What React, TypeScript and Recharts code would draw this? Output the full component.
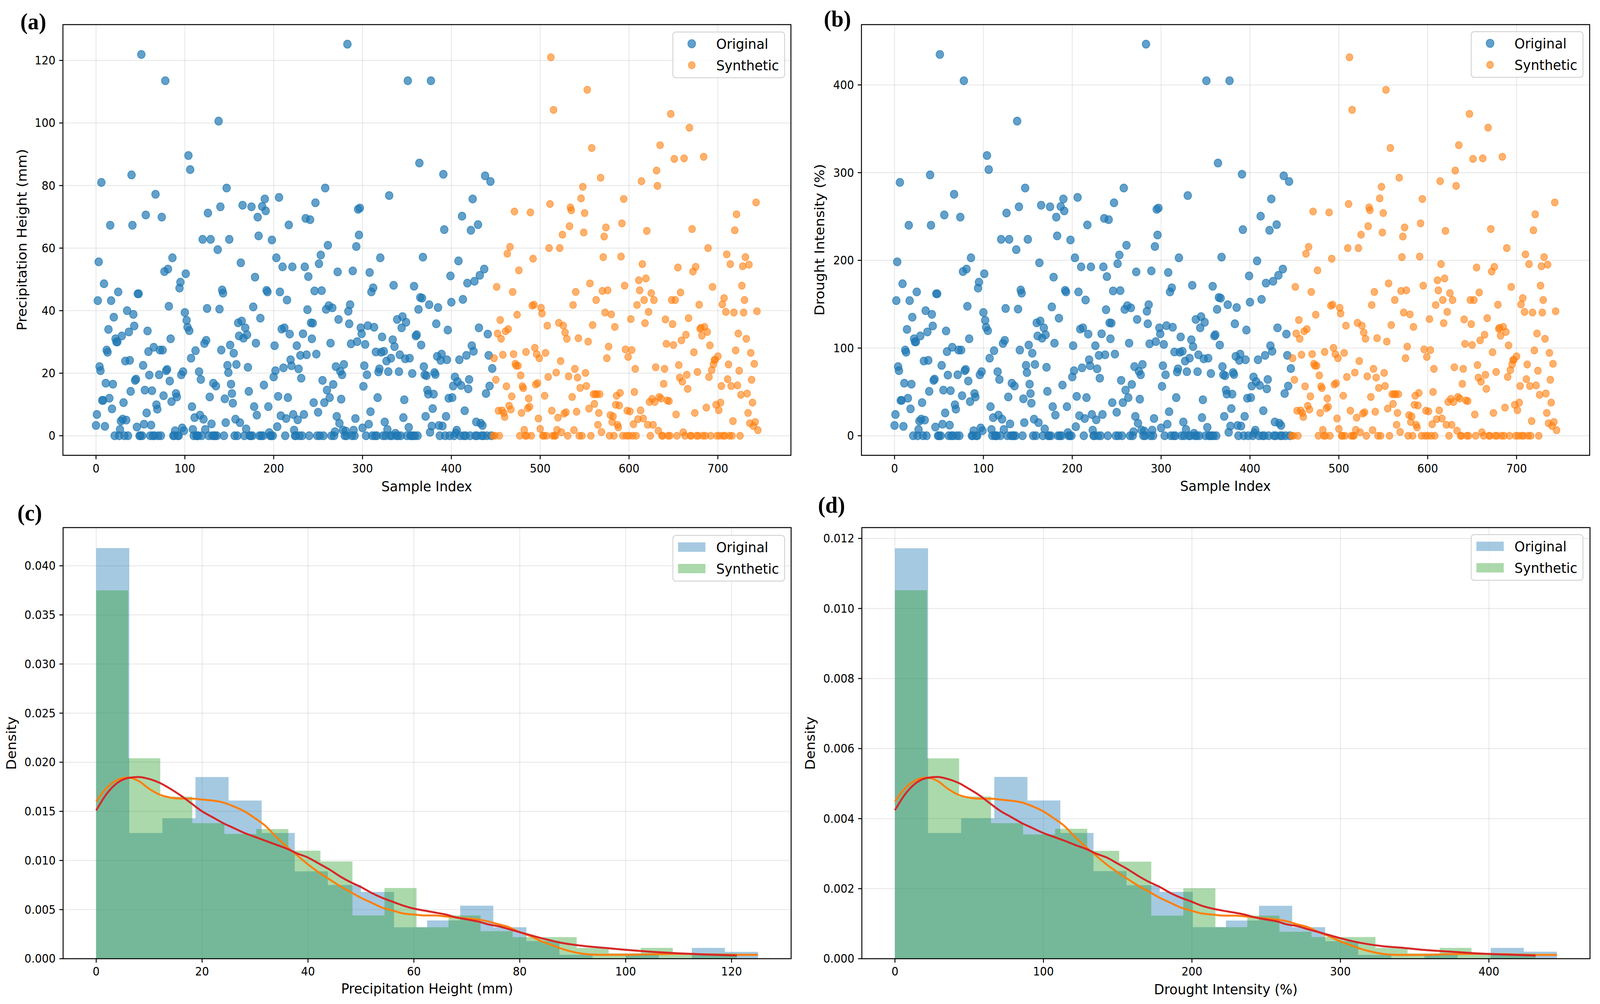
import React from 'react';
import {
  ScatterChart,
  Scatter,
  ComposedChart,
  Area,
  Line,
  XAxis,
  YAxis,
  CartesianGrid,
  ReferenceArea,
} from 'recharts';

// ---- data ----

// panel (a): precipitation height (mm) per sample index, original samples 0..446
const ORIGINAL_PRECIP = [
  3.3, 6.8, 43.2, 55.6, 22.1, 20.8, 81, 11.3, 11.3, 48.6,
  3, 16.8, 27.4, 26.7, 34, 12, 67.3, 43.2, 8.6, 16.5,
  37.9, 0, 31, 30, 30, 46, 0, 2, 4.7, 31.9,
  5.3, 10.6, 0, 23.9, 5, 40, 0, 33.2, 24.1, 14.2,
  83.4, 67.3, 38.8, 35.1, 17.7, 18.1, 2.8, 45.4, 45.4, 0,
  0, 121.9, 0, 22.5, 3.7, 14.6, 70.6, 7.3, 33.5, 26.9,
  19.4, 0, 3.4, 14.4, 0, 28.3, 0, 77.2, 9.9, 8.5,
  0, 19.5, 27.4, 0, 69.9, 27.4, 12.8, 52.5, 113.5, 20.8,
  21.2, 53.3, 41.4, 17.5, 31, 10.9, 56.9, 0, 0, 1.6,
  13.5, 12.4, 0, 0, 47.2, 49.1, 19.5, 2.5, 20.5, 1.6,
  39.4, 51.8, 36.9, 34.7, 89.6, 33.6, 85.1, 24.8, 9.3, 2,
  0, 5.8, 27.2, 0, 0, 0, 20.5, 6.6, 18, 0,
  62.8, 5.3, 29.5, 2, 30.5, 40.7, 71.2, 0, 12.4, 62.8,
  3.8, 0, 16.8, 0, 0, 15.9, 0, 59.5, 100.6, 40.5,
  73.2, 27.4, 46.6, 45.6, 0, 11.8, 4.2, 79.2, 22.5, 20.2,
  62.8, 29, 16.5, 13.5, 10.4, 26.4, 0, 5.3, 22.8, 0,
  36.1, 31.9, 4.2, 55.3, 36.7, 73.7, 31.2, 0, 34.5, 2.2,
  32.3, 21.9, 14.2, 0, 0, 73.2, 0, 41.2, 9.3, 50.7,
  29.6, 6.6, 69.9, 63.9, 0, 37.6, 0, 73.3, 0, 16.2,
  75.7, 71.9, 46.5, 46, 9.3, 1, 0, 0, 62.6, 0,
  18.8, 28.8, 20.8, 56.9, 2.9, 12.6, 76.2, 46, 6.4, 34.1,
  54, 21.7, 34.5, 0, 5.5, 43.4, 12.2, 67.4, 32.5, 24.3,
  22.4, 54, 6.8, 1.8, 0, 0, 28.8, 5.1, 21.4, 0,
  25.7, 18.4, 0, 32.6, 6.8, 54, 69.5, 25.9, 40.3, 50.9,
  0, 69.1, 36.1, 31, 36, 10.6, 46.3, 74.5, 26.1, 0,
  7.5, 55, 0, 57.8, 46.4, 17.7, 0, 10.6, 79.2, 40.4,
  14.6, 60.9, 41.6, 12.2, 29.6, 0, 40.9, 16.4, 0, 1.3,
  22.1, 6.2, 52.4, 37.2, 4, 20.6, 11.7, 19.5, 1.8, 22.8,
  0, 1.5, 0, 125.2, 39.8, 35.8, 41.9, 29.4, 0, 52.7,
  1.8, 0, 5.5, 60.5, 30.1, 72.4, 64.2, 72.8, 34.5, 32.6,
  2.5, 15.8, 22.4, 29.2, 0, 19.5, 35.2, 3.7, 52.2, 7.7,
  46, 0, 47.3, 34.7, 0, 26.8, 0, 12.2, 20.4, 21.4,
  56.9, 26.7, 31.6, 0, 27, 4.4, 0, 23.9, 2, 20.5,
  76.8, 0, 24.8, 0, 30.7, 48.1, 28.5, 0.8, 0, 37.2,
  0, 20.5, 25.9, 0, 34.5, 38.1, 5.8, 11.5, 24.6, 36.3,
  0, 113.5, 2.7, 24.8, 0, 0, 19.9, 0, 47.8, 0,
  31.9, 32.3, 0, 40.4, 87.2, 44.2, 29, 44, 57.1, 22.1,
  19.5, 6.2, 19.2, 14.6, 13.3, 41.9, 1.1, 113.5, 3.1, 8.7,
  13.3, 20.2, 19.6, 35.8, 25.4, 41, 3.3, 0, 24.1, 26.1,
  3.1, 83.6, 65.9, 0, 6.2, 24.3, 33.8, 12, 0, 51.1,
  42.7, 12.2, 15.9, 0, 18.8, 0.9, 1.8, 17.3, 55.9, 24.3,
  0, 16.1, 70.2, 43.6, 0, 8, 0, 25.7, 48.8, 15,
  18, 0, 65.7, 28.8, 75.7, 27, 49.4, 0, 4.4, 0,
  67.5, 34.5, 51.3, 4, 0, 3.3, 0, 53.3, 83.1, 13.5,
  0, 32.5, 25.7, 15.9, 81.3, 0, 21.5,
];

// synthetic samples follow right after, indices 447..745
const SYNTHETIC_PRECIP = [
  0, 24.8, 0, 17.9, 47.6, 32.7, 8, 0, 37, 31,
  8.1, 25.9, 7.3, 6, 33.4, 15.8, 58.2, 34.1, 9.6, 60.4,
  8.4, 12.6, 46, 26.1, 71.7, 23, 22.4, 38.7, 22.4, 52.9,
  0, 19.3, 7.3, 15.8, 15.2, 1.9, 0, 26.8, 0, 8.8,
  11.9, 9.3, 71.4, 0, 41.6, 56.6, 41.9, 28.1, 16.4, 26.1,
  16.8, 5.5, 24.8, 2.2, 40.9, 39.1, 0, 0, 12.8, 26.5,
  0, 35.2, 18.8, 60, 74.1, 121, 8, 0, 104.2, 0,
  0, 20.2, 1.9, 5.8, 36.1, 60, 23.9, 1.1, 64.3, 35.2,
  7.1, 33, 7.5, 31, 0, 19, 67, 73, 72.1, 12.4,
  41.8, 1.8, 21.4, 46, 7.7, 18.6, 31.2, 0, 15.3, 75.9,
  0, 79.6, 65, 71.2, 20.1, 15.9, 110.6, 30.1, 8.7, 48.7,
  0, 92, 35.4, 13.3, 10.2, 13.3, 43.4, 13.3, 3.5, 7.3,
  13.3, 82.5, 1.2, 46.3, 57.1, 63.7, 39.4, 66.6, 24.8, 46.5,
  28.5, 0, 6.6, 38.8, 4.4, 6.2, 0, 34.8, 9.9, 12.8,
  3.5, 2.7, 9.7, 13.7, 57.3, 67.9, 0, 75.7, 48, 27.6,
  0, 8, 25.2, 0, 7.8, 37.3, 27.4, 0, 3.7, 14,
  21.4, 0, 41.8, 5.3, 49.7, 46.5, 8.1, 81.4, 54.9, 5.5,
  43.4, 36, 50.3, 65.5, 3.5, 39.6, 10.8, 0, 45.6, 11.8,
  3.5, 43.4, 10.8, 21.9, 84.8, 79.9, 1.6, 12.4, 92.9, 11.9,
  0, 0, 16.6, 21.4, 37.2, 29.4, 11.3, 0, 11.1, 0,
  102.9, 43.4, 35.7, 29, 88.5, 43.4, 6.8, 0, 53.8, 22.6,
  18.6, 45.8, 30.5, 17.3, 1.1, 88.7, 0, 32.3, 19.5, 15,
  37.6, 98.5, 0, 0, 66.1, 52.5, 26.7, 7.3, 54, 0,
  20.4, 0, 41.9, 34.2, 34.5, 32, 0, 89.2, 34.8, 0,
  9, 33.2, 60, 18.8, 28.9, 0, 21, 47.6, 22.8, 24.2,
  24.3, 9.9, 0, 25.4, 8.2, 0, 10.6, 15.9, 42, 0,
  44, 0, 39.6, 58, 18.1, 22.8, 0, 54.9, 15.9, 0,
  4.7, 39.4, 65.7, 27.3, 70.8, 16.1, 32.7, 20.8, 0, 13.1,
  48, 54.2, 39.4, 43.4, 57.1, 31, 13.5, 7.3, 54.7, 4,
  26.5, 17.9, 10.6, 3.1, 23, 4.4, 74.6, 39.8, 1.8,
];

// panel (b) shows the very same samples as drought intensity (% of mean precipitation)
const DROUGHT_PER_MM = 3.566;

// panel (c): histogram bins (density) and KDE curves
const PRECIP_ORIG_EDGES = [0, 6.25, 12.5, 18.75, 25, 31.25, 37.5, 43.75, 50, 56.25, 62.5, 68.75, 75, 81.25, 87.5, 93.75, 100, 106.25, 112.5, 118.75, 125];
const PRECIP_ORIG_DENSITY = [0.0418, 0.0128, 0.0143, 0.0185, 0.0161, 0.0128, 0.0089, 0.0075, 0.0068, 0.0032, 0.0039, 0.0054, 0.0032, 0.0018, 0.0004, 0, 0.0004, 0, 0.0011, 0.0007];
const PRECIP_SYN_EDGES = [0, 6.05, 12.1, 18.15, 24.2, 30.25, 36.3, 42.35, 48.4, 54.45, 60.5, 66.55, 72.6, 78.65, 84.7, 90.75, 96.8, 102.85, 108.9, 114.95, 121];
const PRECIP_SYN_DENSITY = [0.0375, 0.0204, 0.0165, 0.0138, 0.0127, 0.0132, 0.011, 0.0099, 0.0044, 0.0072, 0.0032, 0.0044, 0.0028, 0.0022, 0.0022, 0.0011, 0.00055, 0.0011, 0.00055, 0.00055];

const PRECIP_KDE_ORIG_X = [0, 2, 4, 6, 8, 10, 12, 14, 16, 18, 20, 22, 24, 26, 28, 30, 32, 34, 36, 38, 40, 42, 44, 46, 48, 50, 52, 54, 56, 58, 60, 62, 64, 66, 68, 70, 72, 74, 76, 78, 80, 82, 84, 86, 88, 90, 92, 95, 100, 105, 110, 115, 120, 125];
const PRECIP_KDE_ORIG_Y = [0.016, 0.0174, 0.0182, 0.01845, 0.0181, 0.0173, 0.0167, 0.0164, 0.0163, 0.0163, 0.0162, 0.0161, 0.0159, 0.0155, 0.015, 0.0143, 0.0135, 0.0124, 0.0114, 0.0105, 0.0096, 0.0088, 0.0081, 0.0074, 0.0068, 0.0062, 0.0057, 0.0052, 0.0049, 0.0046, 0.0045, 0.0044, 0.0044, 0.0043, 0.0042, 0.0041, 0.004, 0.0038, 0.0035, 0.0032, 0.0027, 0.0023, 0.0018, 0.0014, 0.001, 0.0007, 0.0005, 0.0004, 0.0004, 0.00045, 0.0005, 0.00045, 0.0004, 0.0004];
const PRECIP_KDE_SYN_X = [0, 2, 4, 6, 8, 10, 12, 14, 16, 18, 20, 22, 24, 26, 28, 30, 32, 34, 36, 38, 40, 42, 44, 46, 48, 50, 52, 54, 56, 58, 60, 62, 64, 66, 68, 70, 72, 74, 76, 78, 80, 84, 88, 92, 96, 100, 105, 110, 115, 121];
const PRECIP_KDE_SYN_Y = [0.0151, 0.0168, 0.0179, 0.0184, 0.0185, 0.0183, 0.0179, 0.0173, 0.0166, 0.0158, 0.015, 0.0144, 0.0138, 0.0133, 0.0128, 0.0124, 0.012, 0.0116, 0.0112, 0.0107, 0.0103, 0.0097, 0.0091, 0.0084, 0.0078, 0.0073, 0.0067, 0.0062, 0.0058, 0.0054, 0.0051, 0.0049, 0.0047, 0.0045, 0.0042, 0.004, 0.0038, 0.0035, 0.0033, 0.003, 0.0027, 0.0021, 0.0016, 0.0013, 0.0011, 0.0009, 0.0007, 0.00055, 0.00043, 0.00033];

// panel (d): same histograms / KDEs on the drought-intensity scale
const DROUGHT_ORIG_EDGES = [0, 22.3, 44.6, 66.9, 89.2, 111.4, 133.7, 156, 178.3, 200.6, 222.9, 245.2, 267.5, 289.7, 312, 334.3, 356.6, 378.9, 401.2, 423.5, 445.8];
const DROUGHT_ORIG_DENSITY = [0.01172, 0.00359, 0.00401, 0.00519, 0.00452, 0.00359, 0.0025, 0.0021, 0.00191, 0.0009, 0.00109, 0.00151, 0.0009, 0.0005, 0.00011, 0, 0.00011, 0, 0.00031, 0.0002];
const DROUGHT_SYN_EDGES = [0, 21.6, 43.2, 64.7, 86.3, 107.9, 129.5, 151, 172.6, 194.2, 215.8, 237.3, 258.9, 280.5, 302, 323.6, 345.2, 366.8, 388.3, 409.9, 431.5];
const DROUGHT_SYN_DENSITY = [0.01052, 0.00572, 0.00463, 0.00387, 0.00355, 0.00371, 0.00308, 0.00277, 0.00123, 0.00201, 0.0009, 0.00123, 0.00077, 0.00062, 0.00062, 0.00031, 0.00015, 0.00031, 0.00015, 0.00015];

const DROUGHT_KDE_ORIG_X = [0, 7.1, 14.3, 21.4, 28.5, 35.7, 42.8, 49.9, 57.1, 64.2, 71.3, 78.5, 85.6, 92.7, 99.8, 107, 114.1, 121.2, 128.4, 135.5, 142.6, 149.8, 156.9, 164, 171.2, 178.3, 185.4, 192.6, 199.7, 206.8, 214, 221.1, 228.2, 235.4, 242.5, 249.6, 256.8, 263.9, 271, 278.1, 285.3, 292.4, 299.5, 306.7, 313.8, 320.9, 328.1, 338.8, 356.6, 374.4, 392.3, 410.1, 427.9, 445.8];
const DROUGHT_KDE_ORIG_Y = [0.00449, 0.00488, 0.0051, 0.00517, 0.00508, 0.00485, 0.00468, 0.0046, 0.00457, 0.00457, 0.00454, 0.00451, 0.00446, 0.00435, 0.00421, 0.00401, 0.00379, 0.00348, 0.0032, 0.00294, 0.00269, 0.00247, 0.00227, 0.00208, 0.00191, 0.00174, 0.0016, 0.00146, 0.00137, 0.00129, 0.00126, 0.00123, 0.00123, 0.00121, 0.00118, 0.00115, 0.00112, 0.00107, 0.00098, 0.0009, 0.00076, 0.00064, 0.0005, 0.00039, 0.00028, 0.0002, 0.00014, 0.00011, 0.00011, 0.00013, 0.00014, 0.00013, 0.00011, 0.00011];
const DROUGHT_KDE_SYN_X = [0, 7.1, 14.3, 21.4, 28.5, 35.7, 42.8, 49.9, 57.1, 64.2, 71.3, 78.5, 85.6, 92.7, 99.8, 107, 114.1, 121.2, 128.4, 135.5, 142.6, 149.8, 156.9, 164, 171.2, 178.3, 185.4, 192.6, 199.7, 206.8, 214, 221.1, 228.2, 235.4, 242.5, 249.6, 256.8, 263.9, 271, 278.1, 285.3, 299.5, 313.8, 328.1, 342.3, 356.6, 374.4, 392.3, 410.1, 431.5];
const DROUGHT_KDE_SYN_Y = [0.00424, 0.00471, 0.00502, 0.00516, 0.00519, 0.00513, 0.00502, 0.00485, 0.00466, 0.00443, 0.00421, 0.00404, 0.00387, 0.00373, 0.00359, 0.00348, 0.00337, 0.00325, 0.00314, 0.003, 0.00289, 0.00272, 0.00255, 0.00236, 0.00219, 0.00205, 0.00188, 0.00174, 0.00163, 0.00151, 0.00143, 0.00137, 0.00132, 0.00126, 0.00118, 0.00112, 0.00107, 0.00098, 0.00093, 0.00084, 0.00076, 0.00059, 0.00045, 0.00036, 0.00031, 0.00025, 0.0002, 0.00015, 0.00012, 0.00009];

// ticks
const SAMPLE_TICKS = [0, 100, 200, 300, 400, 500, 600, 700];
const PRECIP_SCATTER_TICKS = [0, 20, 40, 60, 80, 100, 120];
const DROUGHT_SCATTER_TICKS = [0, 100, 200, 300, 400];
const PRECIP_HIST_TICKS = [0, 20, 40, 60, 80, 100, 120];
const DROUGHT_HIST_TICKS = [0, 100, 200, 300, 400];
const PRECIP_DENSITY_TICKS = [0, 0.005, 0.01, 0.015, 0.02, 0.025, 0.03, 0.035, 0.04];
const DROUGHT_DENSITY_TICKS = [0, 0.002, 0.004, 0.006, 0.008, 0.01, 0.012];

// ---- styling ----
const PAGE_W = 4323;
const PAGE_H = 2571;
const FONT = '"DejaVu Sans", Verdana, sans-serif';
const SERIF = '"Liberation Serif", "Times New Roman", serif';
const BLUE = '#1f77b4';
const ORANGE = '#ff7f0e';
const GREEN = '#2ca02c';
const RED = '#d62728';
const TICK_FONT = 29.5;
const LABEL_FONT = 36;

const axisStyle = {
  axisLine: false,
  tickLine: { stroke: '#000', strokeWidth: 2.5 },
  tickSize: 10,
  tick: { fontSize: TICK_FONT, fill: '#000', fontFamily: FONT },
  interval: 0 as const,
  allowDataOverflow: true,
};

// matplotlib-like grid: grey at 30 % opacity, drawn above patches but below lines
const grid = <CartesianGrid stroke="#b0b0b0" strokeOpacity={0.3} strokeWidth={2.2} />;

const toScatter = (values: number[], offset: number, scale: number) =>
  values.map((v, i) => ({ x: offset + i, y: v * scale }));
const toSteps = (edges: number[], dens: number[]) =>
  edges.map((x, i) => ({ x, y: dens[Math.min(i, dens.length - 1)] }));
const toPoints = (xs: number[], ys: number[]) => xs.map((x, i) => ({ x, y: ys[i] }));

const dot = (color: string, r: number, alpha: number) => (p: any) => (
  <circle
    cx={p.cx}
    cy={p.cy}
    r={r}
    fill={color}
    fillOpacity={alpha}
    stroke={color}
    strokeOpacity={alpha}
    strokeWidth={2}
  />
);

type Box = { left: number; top: number; right: number; bottom: number };

type ScatterProps = {
  left: number;
  top: number;
  width: number;
  height: number;
  plot: Box;
  yDomain: [number, number];
  yTicks: number[];
  scale: number;
};

const SAMPLE_DOMAIN: [number, number] = [-37.25, 782.25];

function ScatterPanel({ left, top, width, height, plot, yDomain, yTicks, scale }: ScatterProps) {
  const orig = toScatter(ORIGINAL_PRECIP, 0, scale);
  const syn = toScatter(SYNTHETIC_PRECIP, ORIGINAL_PRECIP.length, scale);
  return (
    <div style={{ position: 'absolute', left, top }}>
      <ScatterChart
        width={width}
        height={height}
        margin={{ top: plot.top, right: width - plot.right, bottom: 0, left: 0 }}
      >
        <XAxis
          {...axisStyle}
          type="number"
          dataKey="x"
          domain={SAMPLE_DOMAIN}
          ticks={SAMPLE_TICKS}
          height={height - plot.bottom}
          tickMargin={13}
        />
        <YAxis
          {...axisStyle}
          type="number"
          dataKey="y"
          domain={yDomain}
          ticks={yTicks}
          width={plot.left}
          tickMargin={10}
        />
        <Scatter data={orig} shape={dot(BLUE, 10.3, 0.7)} isAnimationActive={false} />
        <Scatter data={syn} shape={dot(ORANGE, 9.2, 0.6)} isAnimationActive={false} />
        {grid}
        <ReferenceArea
          x1={SAMPLE_DOMAIN[0]}
          x2={SAMPLE_DOMAIN[1]}
          y1={yDomain[0]}
          y2={yDomain[1]}
          fill="none"
          stroke="#000"
          strokeWidth={2.5}
          ifOverflow="visible"
        />
      </ScatterChart>
    </div>
  );
}

type HistProps = {
  left: number;
  top: number;
  width: number;
  height: number;
  plot: Box;
  xDomain: [number, number];
  xTicks: number[];
  yDomain: [number, number];
  yTicks: number[];
  origEdges: number[];
  origDensity: number[];
  synEdges: number[];
  synDensity: number[];
  kdeOrig: { x: number; y: number }[];
  kdeSyn: { x: number; y: number }[];
};

function HistPanel(p: HistProps) {
  const { plot, width, height } = p;
  return (
    <div style={{ position: 'absolute', left: p.left, top: p.top }}>
      <ComposedChart
        width={width}
        height={height}
        margin={{ top: plot.top, right: width - plot.right, bottom: 0, left: 0 }}
      >
        <XAxis
          {...axisStyle}
          type="number"
          dataKey="x"
          domain={p.xDomain}
          ticks={p.xTicks}
          height={height - plot.bottom}
          tickMargin={12}
        />
        <YAxis
          {...axisStyle}
          type="number"
          domain={p.yDomain}
          ticks={p.yTicks}
          width={plot.left}
          tickMargin={10}
          tickFormatter={(v: number) => v.toFixed(3)}
        />
        <Area
          data={toSteps(p.origEdges, p.origDensity)}
          dataKey="y"
          type="stepAfter"
          stroke="none"
          fill={BLUE}
          fillOpacity={0.4}
          baseValue={0}
          isAnimationActive={false}
        />
        <Area
          data={toSteps(p.synEdges, p.synDensity)}
          dataKey="y"
          type="stepAfter"
          stroke="none"
          fill={GREEN}
          fillOpacity={0.4}
          baseValue={0}
          isAnimationActive={false}
        />
        {grid}
        <Line
          data={p.kdeOrig}
          dataKey="y"
          type="monotone"
          stroke={ORANGE}
          strokeWidth={5}
          dot={false}
          isAnimationActive={false}
        />
        <Line
          data={p.kdeSyn}
          dataKey="y"
          type="monotone"
          stroke={RED}
          strokeWidth={5}
          dot={false}
          isAnimationActive={false}
        />
        <ReferenceArea
          x1={p.xDomain[0]}
          x2={p.xDomain[1]}
          y1={p.yDomain[0]}
          y2={p.yDomain[1]}
          fill="none"
          stroke="#000"
          strokeWidth={2.5}
          ifOverflow="visible"
        />
      </ComposedChart>
    </div>
  );
}

// ---- overlay texts and legends ----
const textProps = { fontFamily: FONT, fontSize: LABEL_FONT, fill: '#000' };

function AxisTitle({ x, y, text, vertical }: { x: number; y: number; text: string; vertical?: boolean }) {
  return (
    <text
      {...textProps}
      x={x}
      y={y}
      textAnchor="middle"
      dominantBaseline="central"
      transform={vertical ? `rotate(-90 ${x} ${y})` : undefined}
    >
      {text}
    </text>
  );
}

function PanelLabel({ x, y, text }: { x: number; y: number; text: string }) {
  return (
    <text x={x} y={y} fontFamily={SERIF} fontWeight="bold" fontSize={60} fill="#000">
      {text}
    </text>
  );
}

function LegendBox({ x, y, kind }: { x: number; y: number; kind: 'dot' | 'patch' }) {
  const rows = [
    { label: 'Original', color: BLUE, r: 10.5, alpha: 0.7 },
    { label: 'Synthetic', color: kind === 'dot' ? ORANGE : GREEN, r: 9.2, alpha: 0.6 },
  ];
  return (
    <g>
      <rect x={x} y={y} width={302} height={117} rx={8} fill="#fff" fillOpacity={0.8} stroke="#d4d4d4" strokeWidth={2.5} />
      {rows.map((row, i) => {
        const cy = y + 30 + i * 55;
        return (
          <g key={row.label}>
            {kind === 'dot' ? (
              <circle
                cx={x + 51}
                cy={cy}
                r={row.r}
                fill={row.color}
                fillOpacity={row.alpha}
                stroke={row.color}
                strokeOpacity={row.alpha}
                strokeWidth={2}
              />
            ) : (
              <rect x={x + 14} y={cy - 12} width={74} height={24} fill={row.color} fillOpacity={0.4} />
            )}
            <text {...textProps} x={x + 117} y={cy} dominantBaseline="central">
              {row.label}
            </text>
          </g>
        );
      })}
    </g>
  );
}

export default function App() {
  // the whole figure is laid out on a 4323 x 2571 canvas and stretched to the visible viewport
  const vw = window.innerWidth || PAGE_W;
  const vh = window.innerHeight || PAGE_H;
  const sx = vw / PAGE_W;
  const sy = vh / PAGE_H;
  return (
    <div
      style={{
        position: 'fixed',
        left: 0,
        top: 0,
        width: '100vw',
        height: '100vh',
        overflow: 'hidden',
        background: '#fff',
      }}
    >
      <div
        style={{
          position: 'absolute',
          left: 0,
          top: 0,
          width: PAGE_W,
          height: PAGE_H,
          transform: `scale(${sx}, ${sy})`,
          transformOrigin: '0 0',
        }}
      >
        <ScatterPanel
          left={0}
          top={0}
          width={2150}
          height={1290}
          plot={{ left: 170, top: 63, right: 2137, bottom: 1166 }}
          yDomain={[-6.26, 131.46]}
          yTicks={PRECIP_SCATTER_TICKS}
          scale={1}
        />
        <ScatterPanel
          left={2150}
          top={0}
          width={2173}
          height={1290}
          plot={{ left: 177.5, top: 63, right: 2145, bottom: 1166 }}
          yDomain={[-22.32, 468.78]}
          yTicks={DROUGHT_SCATTER_TICKS}
          scale={DROUGHT_PER_MM}
        />
        <HistPanel
          left={0}
          top={1290}
          width={2150}
          height={1281}
          plot={{ left: 170.5, top: 61, right: 2137.5, bottom: 1165 }}
          xDomain={[-6.25, 131.25]}
          xTicks={PRECIP_HIST_TICKS}
          yDomain={[0, 0.04389]}
          yTicks={PRECIP_DENSITY_TICKS}
          origEdges={PRECIP_ORIG_EDGES}
          origDensity={PRECIP_ORIG_DENSITY}
          synEdges={PRECIP_SYN_EDGES}
          synDensity={PRECIP_SYN_DENSITY}
          kdeOrig={toPoints(PRECIP_KDE_ORIG_X, PRECIP_KDE_ORIG_Y)}
          kdeSyn={toPoints(PRECIP_KDE_SYN_X, PRECIP_KDE_SYN_Y)}
        />
        <HistPanel
          left={2150}
          top={1290}
          width={2173}
          height={1281}
          plot={{ left: 178.6, top: 61, right: 2146, bottom: 1165 }}
          xDomain={[-22.29, 468.09]}
          xTicks={DROUGHT_HIST_TICKS}
          yDomain={[0, 0.01231]}
          yTicks={DROUGHT_DENSITY_TICKS}
          origEdges={DROUGHT_ORIG_EDGES}
          origDensity={DROUGHT_ORIG_DENSITY}
          synEdges={DROUGHT_SYN_EDGES}
          synDensity={DROUGHT_SYN_DENSITY}
          kdeOrig={toPoints(DROUGHT_KDE_ORIG_X, DROUGHT_KDE_ORIG_Y)}
          kdeSyn={toPoints(DROUGHT_KDE_SYN_X, DROUGHT_KDE_SYN_Y)}
        />
        <svg
          width={PAGE_W}
          height={PAGE_H}
          style={{ position: 'absolute', left: 0, top: 0, pointerEvents: 'none' }}
        >
          <PanelLabel x={55} y={75} text="(a)" />
          <PanelLabel x={2226} y={68} text="(b)" />
          <PanelLabel x={47} y={1333} text="(c)" />
          <PanelLabel x={2210} y={1313} text="(d)" />

          <AxisTitle x={59} y={614} text="Precipitation Height (mm)" vertical />
          <AxisTitle x={1153} y={1245} text="Sample Index" />
          <AxisTitle x={2214} y={614} text="Drought Intensity (%)" vertical />
          <AxisTitle x={3311} y={1244} text="Sample Index" />
          <AxisTitle x={30} y={1903} text="Density" vertical />
          <AxisTitle x={1154} y={2531} text="Precipitation Height (mm)" />
          <AxisTitle x={2189} y={1903} text="Density" vertical />
          <AxisTitle x={3312} y={2533} text="Drought Intensity (%)" />

          <LegendBox x={1818} y={82} kind="dot" />
          <LegendBox x={3975} y={81} kind="dot" />
          <LegendBox x={1818} y={1371} kind="patch" />
          <LegendBox x={3975} y={1369} kind="patch" />
        </svg>
      </div>
    </div>
  );
}
